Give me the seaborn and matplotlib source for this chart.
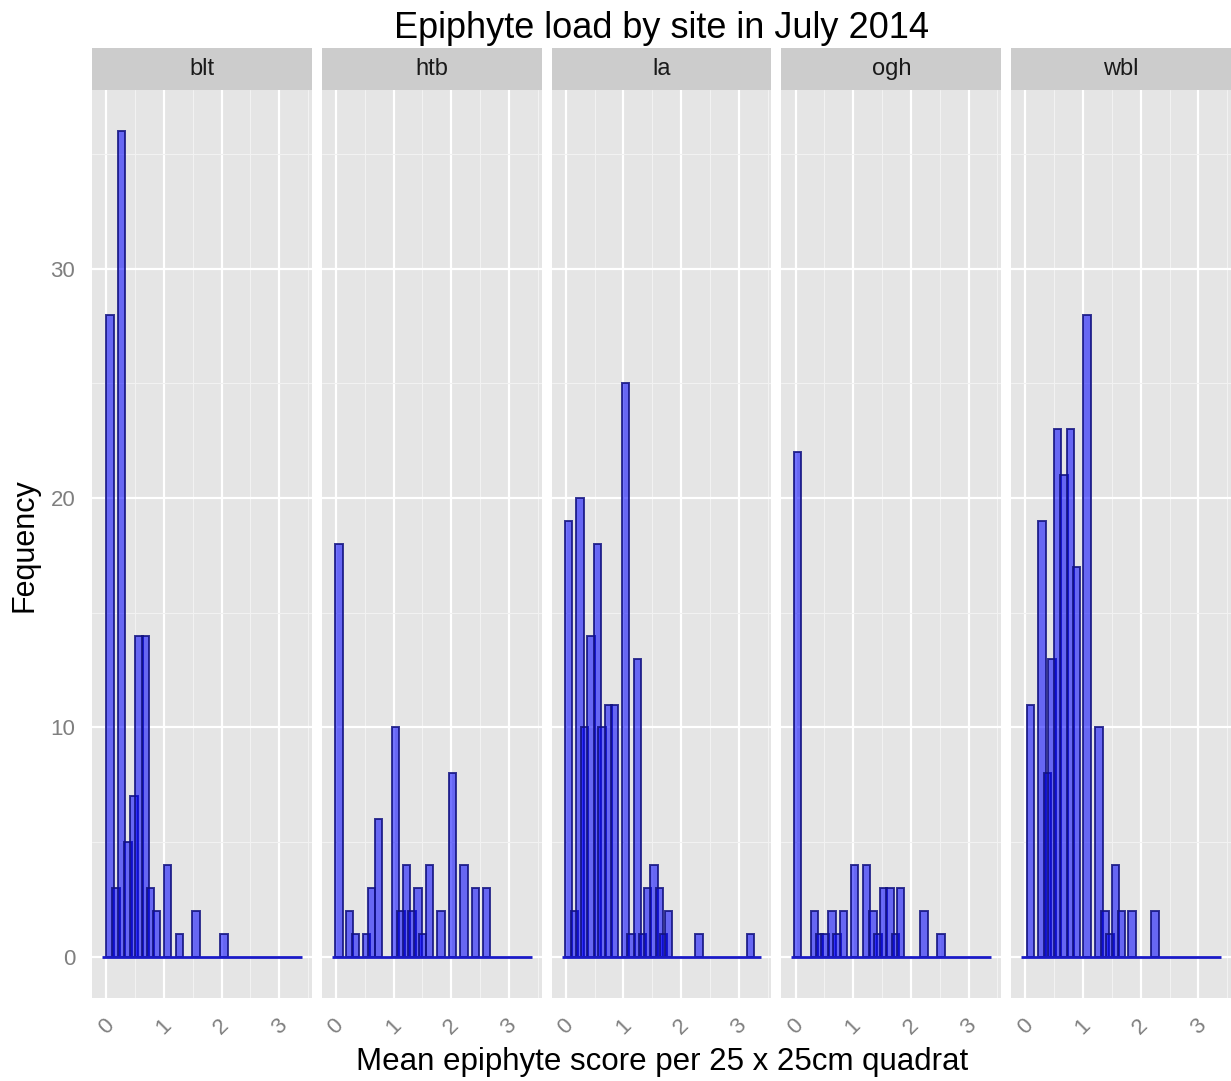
import numpy as np
import pandas as pd
import matplotlib
matplotlib.use("Agg")
import matplotlib.pyplot as plt
import seaborn as sns

# ---------------- data ----------------
sites = ["blt", "htb", "la", "ogh", "wbl"]

blt_score = [0.065, 0.17, 0.27, 0.38, 0.48, 0.57, 0.68, 0.77, 0.87, 1.06, 1.27, 1.56, 2.04]
blt_count = [28, 3, 36, 5, 7, 14, 14, 3, 2, 4, 1, 2, 1]

htb_score = [0.05, 0.24, 0.34, 0.53, 0.62, 0.74, 1.03, 1.13, 1.22, 1.32, 1.42, 1.50, 1.62, 1.82, 2.02, 2.22, 2.42, 2.61]
htb_count = [18, 2, 1, 1, 3, 6, 10, 2, 4, 2, 3, 1, 4, 2, 8, 4, 3, 3]

la_score = [0.05, 0.15, 0.25, 0.33, 0.44, 0.55, 0.63, 0.74, 0.84, 1.04, 1.13, 1.24, 1.33, 1.42, 1.53, 1.62, 1.70, 1.78, 2.31, 3.20]
la_count = [19, 2, 20, 10, 14, 18, 10, 11, 11, 25, 1, 13, 1, 3, 4, 3, 1, 2, 1, 1]

ogh_score = [0.03, 0.33, 0.42, 0.51, 0.63, 0.72, 0.83, 1.02, 1.23, 1.34, 1.43, 1.53, 1.64, 1.73, 1.82, 2.23, 2.52]
ogh_count = [22, 2, 1, 1, 2, 1, 2, 4, 4, 2, 1, 3, 3, 1, 3, 2, 1]

wbl_score = [0.09, 0.29, 0.38, 0.46, 0.56, 0.67, 0.78, 0.89, 1.07, 1.28, 1.38, 1.47, 1.56, 1.67, 1.85, 2.25]
wbl_count = [11, 19, 8, 13, 23, 21, 23, 17, 28, 10, 2, 1, 4, 2, 2, 2]

bin_range = (-0.072, 3.392)   # extent of the (empty) histogram bins
x_ticks = [0, 1, 2, 3]
y_ticks = [0, 10, 20, 30]

title = "Epiphyte load by site in July 2014"
x_label = "Mean epiphyte score per 25 x 25cm quadrat"
y_label = "Fequency"

# ---------------- build table ----------------
frames = []
for s, xs, ns in zip(sites,
                     [blt_score, htb_score, la_score, ogh_score, wbl_score],
                     [blt_count, htb_count, la_count, ogh_count, wbl_count]):
    frames.append(pd.DataFrame({"site": s, "score": xs, "count": ns}))
df = pd.concat(frames, ignore_index=True)

# ---------------- style ----------------
sns.set_style("white")
plt.rcParams["font.family"] = ["Liberation Sans", "DejaVu Sans"]

BAR_W = 0.128
PANEL_BG = "#e5e5e5"
STRIP_BG = "#cccccc"
TICK_C = "#7f7f7f"

g = sns.FacetGrid(df, col="site", col_order=sites, sharex=True, sharey=True,
                  height=4, aspect=0.25, despine=False)


def draw_bars(data, color=None, **kw):
    ax = plt.gca()
    ax.bar(data["score"], data["count"], width=BAR_W,
           facecolor=(0.0, 0.0, 1.0, 0.55),
           edgecolor=(0.07, 0.07, 0.5, 0.85), linewidth=1.4, zorder=3)
    ax.plot(list(bin_range), [0, 0], color=(0.1, 0.1, 0.78), lw=2.0,
            zorder=4, solid_capstyle="butt")


g.map_dataframe(draw_bars)

fig = g.figure
fig.set_size_inches(12.31, 10.81)
fig.set_dpi(100)

for ax, s in zip(g.axes.flat, sites):
    ax.set_xlim(-0.245, 3.565)
    ax.set_ylim(-1.8, 37.8)
    ax.set_facecolor(PANEL_BG)
    for sp in ax.spines.values():
        sp.set_visible(False)
    ax.set_xticks(x_ticks)
    ax.set_xticklabels([str(t) for t in x_ticks], rotation=45, ha="center",
                       va="top", color=TICK_C, fontsize=16)
    ax.set_xticks(np.arange(0.5, 3.6, 1.0), minor=True)
    ax.set_yticks(y_ticks)
    ax.set_yticks([5, 15, 25, 35], minor=True)
    ax.grid(which="major", color="white", linewidth=1.6, zorder=0)
    ax.grid(which="minor", color="#f2f2f2", linewidth=0.8, zorder=0)
    ax.set_axisbelow(True)
    ax.tick_params(axis="both", which="major", length=7, width=1.0,
                   color=TICK_C, labelcolor=TICK_C, labelsize=16, pad=5)
    ax.tick_params(axis="both", which="minor", length=0)
    ax.set_title("")
    ax.set_xlabel("")
    ax.set_ylabel("")
    # strip
    strip_h = 42 / 908
    ax.add_patch(plt.Rectangle((0, 1.0), 1, strip_h, transform=ax.transAxes,
                               facecolor=STRIP_BG, edgecolor="none",
                               clip_on=False, zorder=1))
    ax.text(0.5, 1.0 + strip_h / 2, s, transform=ax.transAxes,
            ha="center", va="center", fontsize=17, color="#1a1a1a")

for ax in g.axes.flat[1:]:
    ax.tick_params(axis="y", labelleft=False, left=False)

g.axes.flat[0].set_yticklabels([str(t) for t in y_ticks])

fig.subplots_adjust(left=92 / 1231, right=1.0, bottom=1 - 998 / 1081,
                    top=1 - 90 / 1081, wspace=10 / 219.8)

fig.text(661 / 1231, 1 - 28 / 1081, title, ha="center", va="center",
         fontsize=26, color="black")
fig.text(662 / 1231, 1 - 1062 / 1081, x_label, ha="center", va="center",
         fontsize=22.5, color="black")
fig.text(25 / 1231, 1 - 545 / 1081, y_label, ha="center", va="center",
         rotation=90, fontsize=22, color="black")

fig.savefig("out.png", dpi=100, facecolor="white")
